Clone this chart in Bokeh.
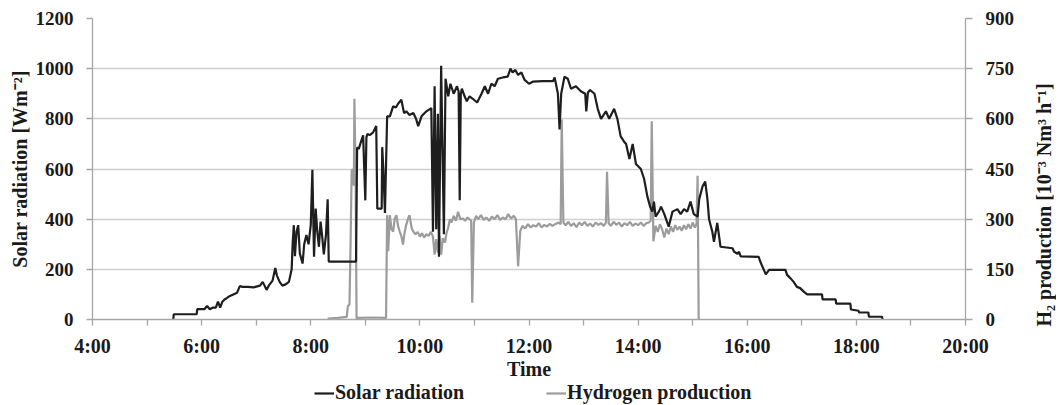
import math
from bokeh.plotting import figure
from bokeh.layouts import column, row
from bokeh.models import (Range1d, LinearAxis, FixedTicker, Legend, LegendItem, Title)
from bokeh.embed import file_html
from bokeh.resources import INLINE

# ---------------- data ----------------
# time in decimal hours, solar radiation in W/m2
solar_t = [5.48, 5.49, 5.91, 5.92, 6.05, 6.10, 6.15, 6.20, 6.26, 6.30, 6.34, 6.38, 6.42, 6.46,
           6.52, 6.58, 6.65, 6.70, 6.75, 6.85, 6.95, 7.07, 7.12, 7.19, 7.23, 7.30, 7.35, 7.38,
           7.43, 7.48, 7.54, 7.60, 7.65, 7.67, 7.69, 7.71, 7.74, 7.77, 7.80, 7.85, 7.88, 7.92,
           7.96, 8.00, 8.03, 8.06, 8.09, 8.12, 8.15, 8.18, 8.21, 8.24, 8.28, 8.31, 8.33, 8.83,
           8.85, 8.88, 8.92, 8.96, 9.00, 9.02, 9.04, 9.08, 9.14, 9.20, 9.22, 9.24, 9.30, 9.31,
           9.33, 9.36, 9.40, 9.45, 9.51, 9.56, 9.60, 9.66, 9.71, 9.75, 9.81, 9.88, 9.93, 9.97,
           10.03, 10.12, 10.21, 10.24, 10.27, 10.30, 10.33, 10.35, 10.39, 10.44, 10.47, 10.52,
           10.56, 10.62, 10.68, 10.71, 10.73, 10.75, 10.77, 10.82, 10.86, 10.91, 10.97, 11.05,
           11.13, 11.19, 11.25, 11.31, 11.37, 11.43, 11.52, 11.61, 11.66, 11.70, 11.75, 11.80,
           11.86, 11.92, 12.00, 12.07, 12.25, 12.44, 12.47, 12.53, 12.56, 12.59, 12.65, 12.71,
           12.77, 12.86, 12.95, 13.03, 13.05, 13.08, 13.12, 13.20, 13.26, 13.32, 13.41, 13.47,
           13.56, 13.62, 13.68, 13.74, 13.78, 13.84, 13.90, 13.96, 14.05, 14.11, 14.17, 14.22,
           14.26, 14.29, 14.32, 14.38, 14.42, 14.48, 14.56, 14.63, 14.72, 14.78, 14.84, 14.90,
           14.96, 15.02, 15.09, 15.12, 15.18, 15.23, 15.27, 15.30, 15.36, 15.39, 15.45, 15.51,
           15.73, 15.76, 15.82, 15.85, 15.88, 16.21, 16.24, 16.34, 16.40, 16.70, 16.73, 16.79,
           16.85, 16.91, 16.97, 17.04, 17.10, 17.37, 17.38, 17.62, 17.63, 17.89, 17.90, 18.04,
           18.05, 18.22, 18.23, 18.47, 18.48]
solar_w = [0, 21, 21, 41, 41, 54, 41, 47, 47, 71, 47, 71, 80, 85,
           94, 100, 107, 133, 130, 130, 128, 135, 150, 118, 135, 155, 205, 175,
           150, 135, 140, 150, 200, 310, 376, 252, 350, 376, 263, 223, 300, 337,
           300, 376, 597, 250, 442, 350, 290, 390, 330, 260, 340, 479, 231, 231,
           686, 680, 708, 734, 475, 726, 740, 735, 745, 771, 442, 442, 442, 687,
           600, 425, 810, 810, 850, 845, 860, 876, 823, 830, 815, 823, 800, 771,
           810, 830, 843, 350, 930, 360, 820, 250, 1012, 340, 960, 890,
           940, 900, 930, 910, 475, 900, 920, 890, 870, 890, 880, 865,
           900, 930, 900, 940, 930, 960, 965, 968, 1000, 985, 995, 975,
           985, 955, 940, 948, 950, 950, 965, 900, 758, 900, 968, 960,
           920, 930, 910, 900, 830, 905, 915, 900, 840, 800, 830, 800,
           840, 800, 730, 710, 700, 640, 700, 620, 600, 560, 490, 450,
           430, 470, 410, 430, 450, 420, 370, 430, 440, 420, 440, 430,
           470, 420, 410, 480, 530, 550, 480, 400, 350, 310, 385, 290,
           284, 270, 262, 270, 252, 250, 230, 180, 198, 198, 178, 165,
           150, 130, 125, 110, 100, 100, 80, 80, 63, 63, 40, 35,
           28, 28, 11, 11, 0]

# time in decimal hours, hydrogen production in 1e-3 Nm3/h
h2_t = [8.31, 8.50, 8.66, 8.68, 8.71, 8.73, 8.75, 8.77, 8.79, 8.80, 8.82, 8.84, 8.86, 9.10,
        9.38, 9.40, 9.42, 9.45, 9.48, 9.51, 9.54, 9.57, 9.60, 9.63, 9.66, 9.69, 9.72, 9.75,
        9.78, 9.81, 9.85, 9.88, 9.92, 9.96, 10.00, 10.04, 10.08, 10.12, 10.16, 10.20, 10.24,
        10.27, 10.30, 10.33, 10.36, 10.39, 10.42, 10.46, 10.49, 10.52, 10.55, 10.58, 10.62,
        10.66, 10.70, 10.74, 10.79, 10.83, 10.87, 10.91, 10.94, 10.96, 10.99, 11.03, 11.07,
        11.12, 11.17, 11.22, 11.27, 11.32, 11.37, 11.42, 11.47, 11.52, 11.57, 11.62, 11.67,
        11.72, 11.76, 11.80, 11.84, 11.88, 11.93, 11.98, 12.03, 12.08, 12.13, 12.18, 12.23,
        12.28, 12.33, 12.38, 12.43, 12.48, 12.54, 12.58, 12.60, 12.63, 12.67, 12.72, 12.77,
        12.82, 12.87, 12.92, 12.97, 13.02, 13.07, 13.12, 13.17, 13.22, 13.27, 13.32, 13.37,
        13.41, 13.43, 13.46, 13.50, 13.55, 13.60, 13.65, 13.70, 13.75, 13.80, 13.85, 13.90,
        13.95, 14.00, 14.05, 14.10, 14.15, 14.20, 14.23, 14.25, 14.28, 14.32, 14.36, 14.40,
        14.44, 14.48, 14.52, 14.56, 14.60, 14.64, 14.68, 14.72, 14.76, 14.80, 14.84, 14.88,
        14.92, 14.96, 15.00, 15.04, 15.07, 15.09, 15.11]
h2_v = [3, 5, 8, 40, 45, 230, 445, 450, 400, 660, 450, 0, 5, 6,
        5, 312, 204, 312, 270, 263, 302, 312, 280, 263, 250, 224, 260, 283,
        300, 312, 273, 263, 255, 262, 248, 258, 245, 255, 250, 262, 248,
        194, 240, 200, 250, 194, 243, 230, 260, 275, 300, 290, 310,
        295, 322, 300, 302, 295, 305, 300, 295, 50, 290, 310, 300,
        312, 298, 305, 295, 308, 300, 312, 298, 305, 300, 315, 302,
        310, 300, 159, 265, 280, 272, 285, 275, 282, 278, 288, 275,
        283, 278, 286, 280, 285, 290, 285, 598, 290, 282, 292, 280,
        288, 276, 290, 282, 292, 280, 287, 278, 290, 283, 288, 280,
        290, 442, 288, 280, 292, 283, 290, 278, 288, 282, 292, 280,
        287, 282, 290, 280, 288, 290, 295, 593, 234, 280, 262, 285,
        270, 245, 272, 255, 278, 262, 282, 268, 278, 265, 282, 270,
        285, 272, 290, 275, 285, 430, 0]

x_ticks = [4, 6, 8, 10, 12, 14, 16, 18, 20]
x_minor = [5, 7, 9, 11, 13, 15, 17, 19]
x_labels = ["4:00", "6:00", "8:00", "10:00", "12:00", "14:00", "16:00", "18:00", "20:00"]
left_ticks = [0, 200, 400, 600, 800, 1000, 1200]
right_ticks = [0, 150, 300, 450, 600, 750, 900]

# ---------------- styling ----------------
FONT = "Liberation Serif"
TXT = "#1a1a1a"
AXC = "#a6a6a6"
GRID = "#cfcfcf"
BLACK = "#1e1e1e"
GRAY = "#9c9c9c"

W_ALL = 1056
W_TITLE = 39                      # strip on the right holding the H2 axis title
W_MAIN = W_ALL - W_TITLE
H_MAIN, H_LEG = 382, 22
FL, FR, FT, FB = 92, 967, 18, 322   # frame edges in px

p = figure(width=W_MAIN, height=H_MAIN, output_backend="svg", toolbar_location=None,
           x_range=Range1d(4, 20), y_range=Range1d(0, 1200),
           min_border_left=FL, min_border_right=W_MAIN - FR,
           min_border_top=FT, min_border_bottom=H_MAIN - FB)
p.outline_line_color = None
p.background_fill_color = "white"
p.border_fill_color = "white"
p.extra_y_ranges = {"h2": Range1d(0, 900)}

p.xgrid.grid_line_color = None
p.ygrid.grid_line_color = GRID
p.ygrid.grid_line_width = 1.3

def style_axis(ax, size="19px", lsize="20px"):
    ax.axis_line_color = AXC
    ax.axis_line_width = 1.3
    ax.major_tick_line_color = AXC
    ax.minor_tick_line_color = AXC
    ax.major_tick_line_width = 1.3
    ax.minor_tick_line_width = 1.3
    ax.major_tick_in = 0
    ax.minor_tick_in = 0
    ax.major_label_text_font = FONT
    ax.major_label_text_font_style = "bold"
    ax.major_label_text_font_size = size
    ax.major_label_text_color = TXT
    ax.axis_label_text_font = FONT
    ax.axis_label_text_font_style = "bold"
    ax.axis_label_text_font_size = lsize
    ax.axis_label_text_color = TXT

# x axis
xa = p.xaxis[0]
style_axis(xa, "20px")
xa.ticker = FixedTicker(ticks=x_ticks, minor_ticks=x_minor)
xa.major_label_overrides = {t: l for t, l in zip(x_ticks, x_labels)}
xa.major_tick_out = 6
xa.minor_tick_out = 6
xa.major_label_standoff = 9
xa.axis_label = "Time"
xa.axis_label_standoff = -2

# left axis
ya = p.yaxis[0]
style_axis(ya)
ya.ticker = FixedTicker(ticks=left_ticks)
ya.major_tick_out = 6
ya.minor_tick_out = 0
ya.major_label_standoff = 13
ya.axis_label = "Solar radiation [Wm\u207b\u00b2]"
ya.axis_label_standoff = 2

# right axis
ra = LinearAxis(y_range_name="h2")
style_axis(ra)
ra.ticker = FixedTicker(ticks=right_ticks)
ra.major_tick_out = 7
ra.minor_tick_out = 0
ra.major_label_standoff = 13
p.add_layout(ra, "right")

# series
r_h2 = p.line(h2_t, h2_v, y_range_name="h2", line_color=GRAY, line_width=2.2)
r_solar = p.line(solar_t, solar_w, line_color=BLACK, line_width=2.2)

# right strip: H2 axis title, reading bottom to top
pr = figure(width=W_TITLE, height=H_MAIN, output_backend="svg", toolbar_location=None,
            x_range=Range1d(0, 1), y_range=Range1d(0, 1),
            x_axis_type=None, y_axis_type=None,
            min_border_left=37, min_border_right=0, min_border_top=0, min_border_bottom=0)
pr.outline_line_color = None
pr.grid.grid_line_color = None
pr.add_layout(Title(text="H\u2082 production [10\u207b\u00b3 Nm\u00b3 h\u207b\u00b9]",
                    align="left", offset=-7, standoff=0,
                    text_font=FONT, text_font_style="bold", text_font_size="20px",
                    text_color=TXT), "left")

# legend strip below the chart (its two lines lie outside its own ranges)
pl = figure(width=W_ALL, height=H_LEG, output_backend="svg", toolbar_location=None,
            x_range=Range1d(0, 1), y_range=Range1d(0, 1),
            x_axis_type=None, y_axis_type=None, min_border=0)
pl.outline_line_color = None
pl.grid.grid_line_color = None
lg_solar = pl.line(solar_t, solar_w, line_color=BLACK, line_width=2.2)
lg_h2 = pl.line(h2_t, h2_v, line_color=GRAY, line_width=2.2)
legend = Legend(items=[LegendItem(label="Solar radiation", renderers=[lg_solar]),
                       LegendItem(label="Hydrogen production", renderers=[lg_h2])],
                orientation="horizontal", location=(314, 0),
                label_text_font=FONT, label_text_font_style="bold",
                label_text_font_size="20px", label_text_color=TXT,
                glyph_width=20, glyph_height=20, label_height=20, label_standoff=1,
                spacing=82, padding=0, margin=0,
                border_line_color=None, background_fill_alpha=0)
pl.add_layout(legend, "center")

layout = column(row(p, pr, spacing=0), pl, spacing=0)
open("out.html", "w").write(file_html(layout, INLINE))
